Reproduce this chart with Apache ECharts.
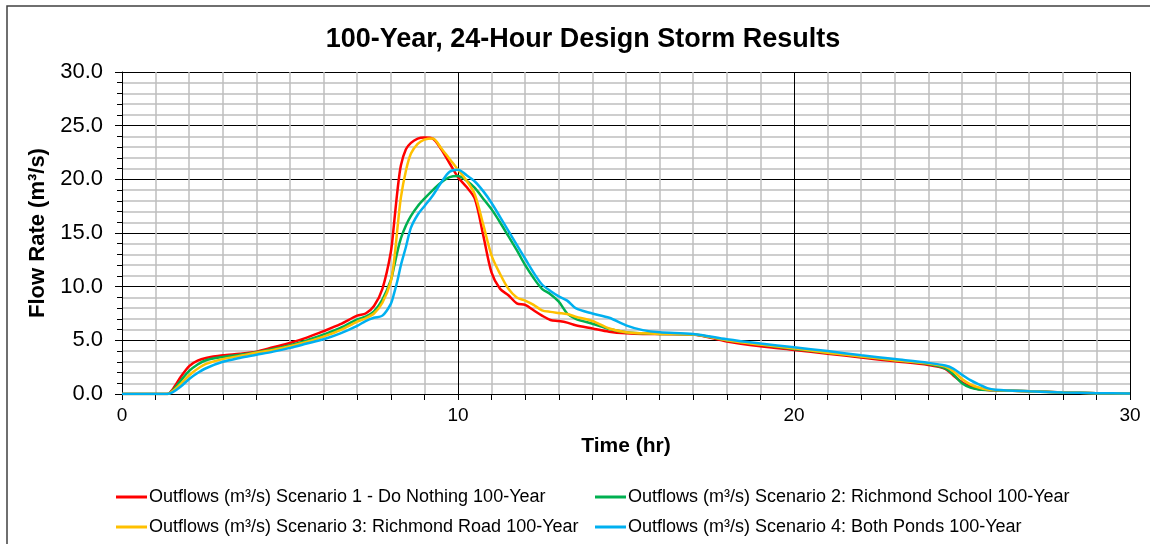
<!DOCTYPE html>
<html>
<head>
<meta charset="utf-8">
<script src="https://cdn.jsdelivr.net/npm/echarts@6/dist/echarts.min.js"></script>
<style>
  html, body { margin: 0; padding: 0; background: #fff; }
  #main { width: 1150px; height: 544px; }
</style>
</head>
<body>
<div id="main"></div>
<script>
// time (hr)
const hours = [0, 1, 1.35, 1.5, 1.75, 2, 2.25, 2.5, 3, 3.5, 4, 4.5, 5, 5.5, 6, 6.5, 7, 7.25, 7.5, 7.75,
  8, 8.1, 8.2, 8.3, 8.45, 8.6, 8.8, 9, 9.25, 9.5, 9.75, 10, 10.25, 10.5, 10.75, 11, 11.25, 11.5, 11.75, 12,
  12.25, 12.5, 12.75, 13, 13.25, 13.5, 14, 14.5, 15, 15.5, 16, 17, 18, 19, 20, 21, 22, 23, 24, 24.5,
  24.75, 25, 25.25, 25.5, 25.75, 26, 27, 28, 29, 30];

// flow rate (m3/s), one array per scenario
const doNothing = [0, 0, 0, 0.4, 1.6, 2.6, 3.1, 3.35, 3.6, 3.75, 3.95, 4.35, 4.75, 5.25, 5.85, 6.5, 7.3, 7.5, 8.2, 9.8,
  13.2, 16.0, 19.0, 21.3, 22.8, 23.4, 23.8, 23.9, 23.8, 22.8, 21.5, 20.2, 19.3, 18.2, 14.8, 11.3, 9.8, 9.2, 8.45, 8.3,
  7.8, 7.3, 6.9, 6.8, 6.65, 6.4, 6.1, 5.8, 5.65, 5.6, 5.6, 5.55, 4.9, 4.45, 4.1, 3.75, 3.4, 3.05, 2.7, 2.35,
  1.7, 1.1, 0.7, 0.45, 0.38, 0.35, 0.25, 0.15, 0.08, 0.05];
const richmondSchool = [0, 0, 0, 0.3, 1.25, 2.15, 2.75, 3.15, 3.45, 3.65, 3.9, 4.2, 4.55, 5.0, 5.55, 6.15, 6.95, 7.2, 7.7, 8.8,
  10.6, 11.9, 13.3, 14.5, 15.7, 16.6, 17.5, 18.2, 19.0, 19.7, 20.2, 20.3, 19.9, 19.2, 18.2, 17.2, 16.0, 14.7, 13.4, 12.0,
  10.8, 9.8, 9.3, 8.6, 7.5, 7.0, 6.55, 6.05, 5.75, 5.65, 5.6, 5.55, 5.0, 4.6, 4.2, 3.85, 3.5, 3.15, 2.8, 2.4,
  1.8, 1.0, 0.6, 0.42, 0.37, 0.35, 0.25, 0.15, 0.08, 0.05];
const richmondRoad = [0, 0, 0, 0.25, 0.95, 1.75, 2.35, 2.8, 3.25, 3.55, 3.85, 4.1, 4.45, 4.85, 5.35, 5.95, 6.75, 7.05, 7.5, 8.5,
  10.5, 12.5, 15.5, 18.3, 20.8, 22.4, 23.3, 23.7, 23.8, 22.9, 21.9, 20.9, 19.9, 18.6, 15.8, 12.9, 11.2, 9.8, 9.0, 8.7,
  8.3, 7.8, 7.65, 7.55, 7.45, 7.2, 6.8, 6.1, 5.75, 5.65, 5.6, 5.55, 5.0, 4.6, 4.25, 3.85, 3.5, 3.15, 2.85, 2.55,
  2.1, 1.4, 0.9, 0.6, 0.42, 0.37, 0.25, 0.15, 0.08, 0.05];
const bothPonds = [0, 0, 0, 0.15, 0.7, 1.4, 1.95, 2.4, 3.0, 3.35, 3.65, 3.95, 4.3, 4.7, 5.1, 5.65, 6.35, 6.8, 7.1, 7.3,
  8.4, 9.4, 10.6, 12.0, 13.7, 15.5, 16.7, 17.5, 18.5, 19.7, 20.7, 20.9, 20.4, 19.8, 18.9, 17.8, 16.5, 15.2, 13.9, 12.6,
  11.3, 10.2, 9.6, 9.1, 8.7, 8.0, 7.5, 7.1, 6.4, 5.95, 5.75, 5.6, 5.1, 4.7, 4.35, 4.0, 3.6, 3.25, 2.9, 2.65,
  2.35, 1.8, 1.3, 0.9, 0.55, 0.4, 0.25, 0.15, 0.08, 0.05];

const seriesNames = [
  'Outflows (m³/s) Scenario 1 - Do Nothing 100-Year',
  'Outflows (m³/s) Scenario 2: Richmond School 100-Year',
  'Outflows (m³/s) Scenario 3: Richmond Road 100-Year',
  'Outflows (m³/s) Scenario 4: Both Ponds 100-Year'
];
const seriesValues = [doNothing, richmondSchool, richmondRoad, bothPonds];
const seriesColors = ['#ff0000', '#00b050', '#ffc000', '#00b0f0'];

const font = 'Arial, "Liberation Sans", sans-serif';

const myChart = echarts.init(document.getElementById('main'));

const legendBase = {
  orient: 'vertical',
  top: 483,
  icon: 'rect',
  itemWidth: 31,
  itemHeight: 3,
  itemGap: 12,
  textStyle: { color: '#000', fontSize: 18, fontFamily: font, padding: [0, 0, 0, -3] }
};

myChart.setOption({
  animation: false,
  backgroundColor: '#fff',
  textStyle: { fontFamily: font },
  graphic: [{
    type: 'rect',
    shape: { x: 7, y: 6, width: 1200, height: 600 },
    style: { fill: 'none', stroke: '#404040', lineWidth: 1.5 },
    silent: true
  }],
  title: {
    text: '100-Year, 24-Hour Design Storm Results',
    left: 578,
    top: 21,
    textAlign: 'center',
    textStyle: { color: '#000', fontSize: 27, fontWeight: 'bold', fontFamily: font }
  },
  legend: [
    Object.assign({}, legendBase, { left: 111, data: [seriesNames[0], seriesNames[2]] }),
    Object.assign({}, legendBase, { left: 590, data: [seriesNames[1], seriesNames[3]] })
  ],
  grid: { left: 122, right: 20, top: 72, bottom: 150 },
  xAxis: {
    type: 'value',
    min: 0,
    max: 30,
    interval: 10,
    name: 'Time (hr)',
    nameLocation: 'middle',
    nameGap: 42,
    nameTextStyle: { color: '#000', fontSize: 21, fontWeight: 'bold', fontFamily: font },
    axisLine: { show: true, lineStyle: { color: '#000', width: 1 } },
    axisTick: { show: true, length: 6, lineStyle: { color: '#000' } },
    minorTick: { show: true, splitNumber: 10, length: 6, lineStyle: { color: '#000' } },
    axisLabel: { color: '#000', fontSize: 19, margin: 12, fontFamily: font },
    splitLine: { show: true, lineStyle: { color: '#000', width: 1 } },
    minorSplitLine: { show: true, lineStyle: { color: '#bfbfbf', width: 1.5 } }
  },
  yAxis: {
    type: 'value',
    min: 0,
    max: 30,
    interval: 5,
    name: 'Flow Rate (m³/s)',
    nameLocation: 'middle',
    nameGap: 70,
    nameTextStyle: { color: '#000', fontSize: 22, fontWeight: 'bold', fontFamily: font },
    axisLine: { show: true, lineStyle: { color: '#000', width: 1 } },
    axisTick: { show: true, length: 7, lineStyle: { color: '#000' } },
    minorTick: { show: true, splitNumber: 5, length: 5, lineStyle: { color: '#000' } },
    axisLabel: {
      color: '#000', fontSize: 22, margin: 19, fontFamily: font,
      formatter: (v) => v.toFixed(1)
    },
    splitLine: { show: true, lineStyle: { color: '#000', width: 1 } },
    minorSplitLine: { show: true, lineStyle: { color: '#bfbfbf', width: 1.5 } }
  },
  series: seriesNames.map((name, i) => ({
    name,
    type: 'line',
    smooth: 0.3,
    showSymbol: false,
    color: seriesColors[i],
    lineStyle: { width: 2.5, color: seriesColors[i] },
    data: hours.map((h, k) => [h, seriesValues[i][k]])
  }))
});
window.onresize = myChart.resize;
</script>
</body>
</html>
